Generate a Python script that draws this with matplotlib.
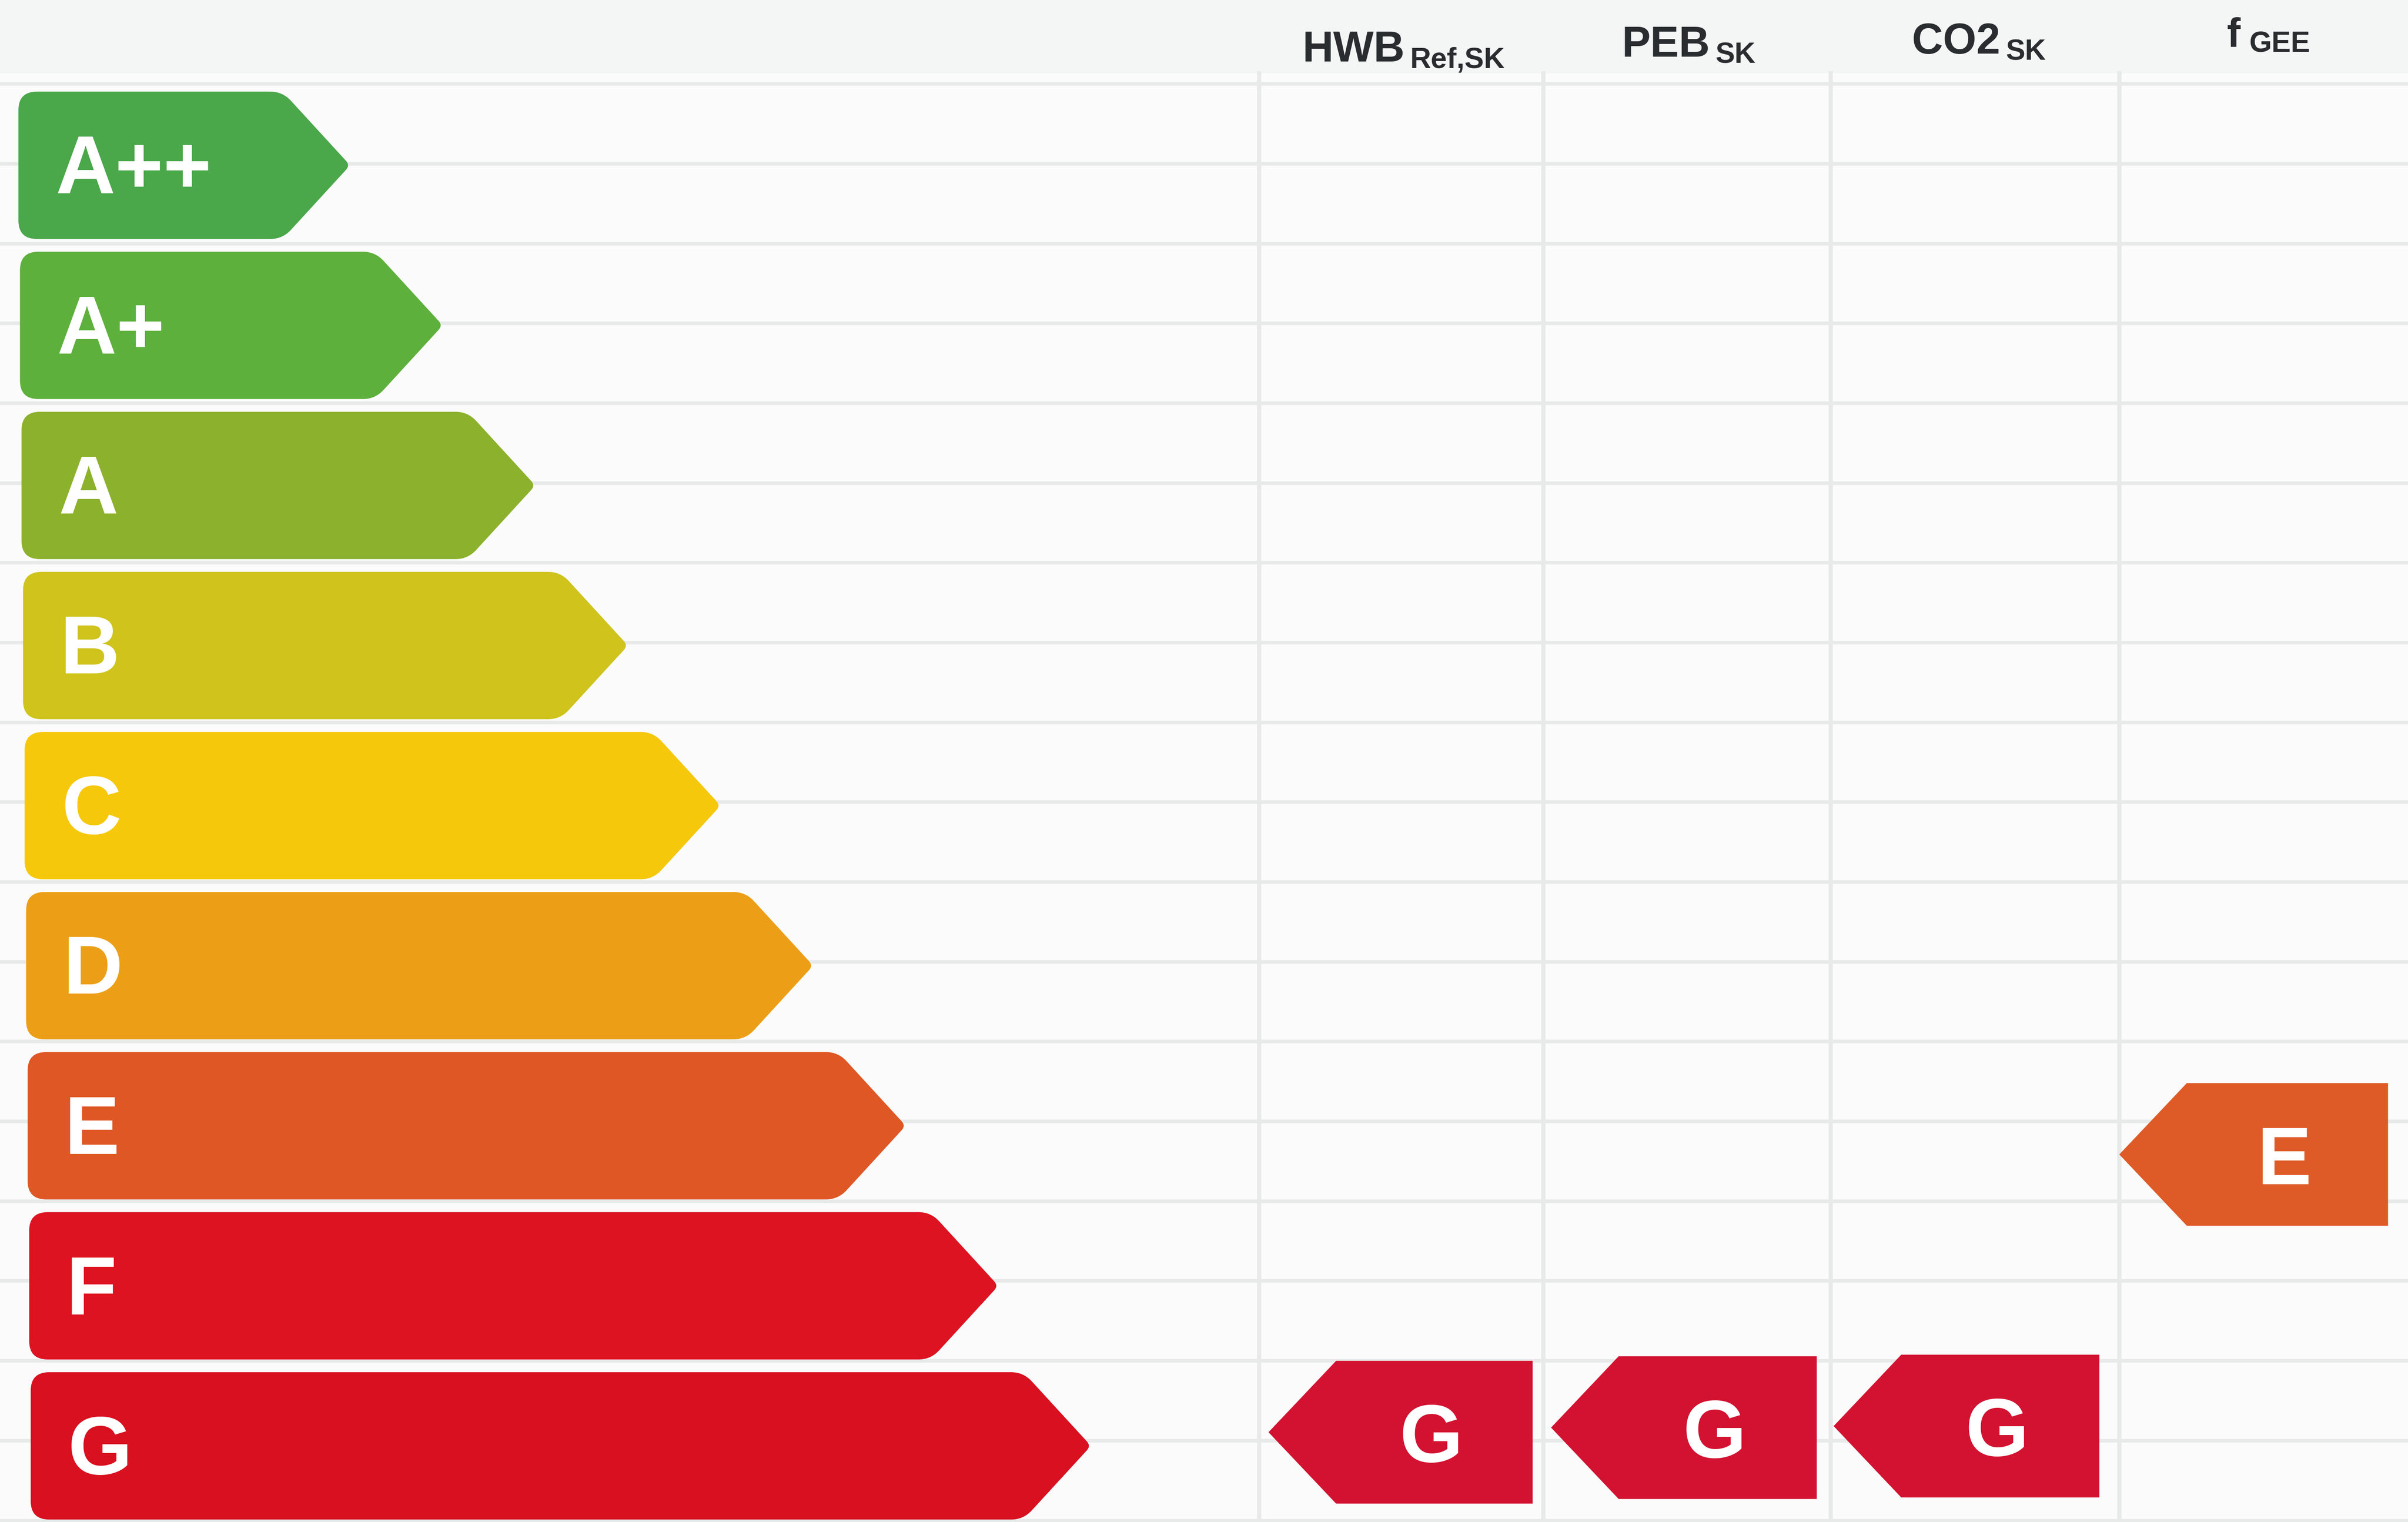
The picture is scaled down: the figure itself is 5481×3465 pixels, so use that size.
import matplotlib
matplotlib.use("Agg")
import matplotlib.pyplot as plt
from matplotlib.path import Path
from matplotlib.patches import PathPatch, Polygon
import numpy as np

# ---- data ----
classes = ["A++", "A+", "A", "B", "C", "D", "E", "F", "G"]
class_colors = ["#4aa74a", "#5eb03c", "#8cb12c", "#cfc31c", "#f6c80c",
                "#ec9f16", "#df5724", "#de1321", "#d8101f"]
indicators = ["HWB", "PEB", "CO2", "f"]
indicator_subs = ["Ref,SK", "SK", "SK", "GEE"]
ratings = ["G", "G", "G", "E"]

# ---- layout (displayed-pixel coordinate system 1568 x 992) ----
W, H = 1568, 992
fig = plt.figure(figsize=(54.81, 34.66), dpi=100)
fig.patch.set_facecolor("#f4f6f6")
ax = fig.add_axes([0, 0, 1, 1])
ax.set_xlim(0, W)
ax.set_ylim(H, 0)
ax.axis("off")

PT = 3.4955 * 72 / 100  # points per displayed pixel

row_top0, row_pitch, bar_h = 60, 104.0, 96
tip_len = 44
col_edges = [820, 1005, 1192, 1380, 1568]

# white grid region
ax.add_patch(plt.Rectangle((0, 48), W, H - 48, color="#fbfbfb", zorder=0, lw=0))

# horizontal grid lines (row centres and row boundaries)
for k in range(2 * len(classes) + 1):
    y = row_top0 - 5 + k * row_pitch / 2
    if y < 48:
        continue
    ax.plot([0, W], [y, y], color="#e8eaea", lw=6, zorder=1, solid_capstyle="butt")
# vertical grid lines
for x in col_edges[:-1]:
    ax.plot([x, x], [48, H], color="#e8eaea", lw=7, zorder=1)


def rounded_path(verts, radii):
    n = len(verts)
    codes, pts = [], []
    V = np.array(verts, float)
    for i in range(n):
        p = V[i]; a = V[i - 1]; b = V[(i + 1) % n]
        r = radii[i]
        if r <= 0:
            p1 = p2 = p
        else:
            da = a - p; db = b - p
            p1 = p + da / np.linalg.norm(da) * min(r, np.linalg.norm(da) / 2)
            p2 = p + db / np.linalg.norm(db) * min(r, np.linalg.norm(db) / 2)
        pts.append(p1); codes.append(Path.MOVETO if i == 0 else Path.LINETO)
        if r > 0:
            pts += [p, p2]; codes += [Path.CURVE3, Path.CURVE3]
    pts.append(pts[0]); codes.append(Path.CLOSEPOLY)
    return Path(pts, codes)


# scale bars
for i, (c, col) in enumerate(zip(classes, class_colors)):
    top = row_top0 + i * row_pitch + (i * 0.3)
    bot = top + bar_h
    left = 12 + i
    tip_x = 228 + 60.3 * i
    mid = (top + bot) / 2
    verts = [(left, top), (tip_x - tip_len, top), (tip_x, mid),
             (tip_x - tip_len, bot), (left, bot)]
    path = rounded_path(verts, [12, 8, 4, 8, 12])
    ax.add_patch(PathPatch(path, facecolor=col, edgecolor="none", zorder=3))
    ax.text(left + 24, mid + 18, c, color="white", fontsize=38.5 / 0.716 * PT,
            fontweight="bold", family=["Liberation Sans", "DejaVu Sans"],
            ha="left", va="baseline", zorder=4)

# headers
head_x = [848, 1056, 1245, 1450]
head_base = [40, 37, 35, 30]
for j, (name, sub) in enumerate(zip(indicators, indicator_subs)):
    main = ax.text(head_x[j], head_base[j], name, color="#2a2d30",
                   fontsize=20 / 0.716 * PT * (0.95 if name == "f" else 1.0),
                   fontweight="bold",
                   family=["Liberation Sans", "DejaVu Sans"],
                   ha="left", va="baseline", zorder=5)
    ax.annotate(sub, xy=(1, 0), xycoords=main, xytext=(9 if name != "f" else 14, 4),
                textcoords="offset points", color="#2a2d30",
                fontsize=13.5 / 0.716 * PT, fontweight="bold",
                family=["Liberation Sans", "DejaVu Sans"],
                ha="left", va="baseline", zorder=5)

# indicator arrows (pointing left)
ind_color = {"G": "#d21230", "E": "#de5a26"}
ind_dy = [-5, -8, -9, 22]
ind_tip_off = [6, 5, 2, 0]
ind_right_off = [7, 9, 13, 13]
for j, r in enumerate(ratings):
    k = classes.index(r)
    top = row_top0 + k * row_pitch + ind_dy[j]
    bot = top + 93
    mid = (top + bot) / 2
    right = col_edges[j + 1] - ind_right_off[j]
    tip_x = col_edges[j] + ind_tip_off[j]
    verts = [(tip_x, mid), (tip_x + tip_len, top), (right, top),
             (right, bot), (tip_x + tip_len, bot)]
    ax.add_patch(Polygon(verts, closed=True, facecolor=ind_color[r],
                         edgecolor="none", zorder=3))
    cx = (tip_x + tip_len + right) / 2
    ax.text(cx - 2, mid + 19, r, color="white", fontsize=38 / 0.716 * PT,
            fontweight="bold", family=["Liberation Sans", "DejaVu Sans"],
            ha="center", va="baseline", zorder=4)

fig.savefig("out.png", dpi=100, facecolor=fig.get_facecolor())
